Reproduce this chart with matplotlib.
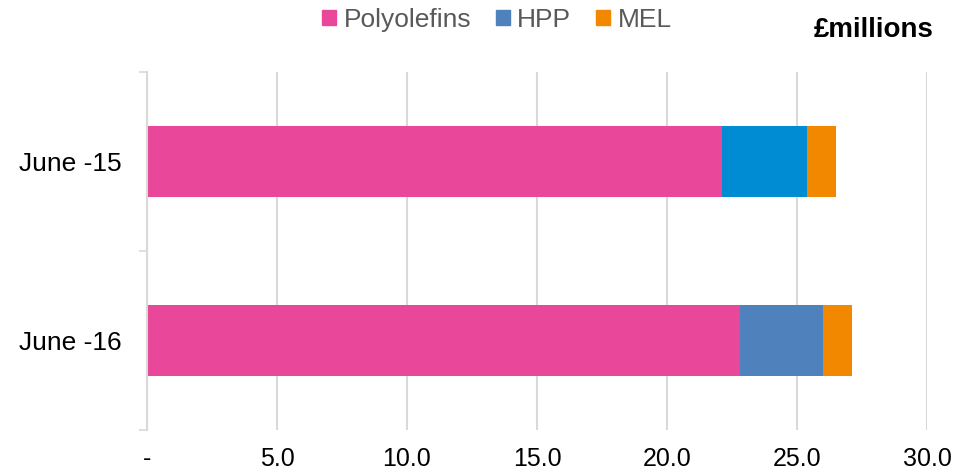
import numpy as np
import matplotlib.pyplot as plt
from matplotlib.patches import Patch

plt.rcParams['font.family'] = ['Liberation Sans', 'DejaVu Sans']

periods = ['June -15', 'June -16']
polyolefins = [22.1, 22.8]
hpp = [3.3, 3.2]
mel = [1.1, 1.1]
xticks = [0, 5, 10, 15, 20, 25, 30]
xticklabels = ['-', '5.0', '10.0', '15.0', '20.0', '25.0', '30.0']

pink = '#E9479A'
blue_legend = '#4F81BD'
hpp_colors = ['#008CD2', '#4F81BD']
orange = '#F28800'
grid_col = '#D9D9D9'

fig = plt.figure(figsize=(9.67, 4.73), dpi=100)
ax = fig.add_axes([147 / 967, 43 / 473, 780 / 967, 358 / 473])

ypos = np.array([1, 0])
poly = np.array(polyolefins)
h = np.array(hpp)
m = np.array(mel)

ax.barh(ypos, poly, height=0.4, color=pink)
ax.barh(ypos, h, left=poly, height=0.4, color=hpp_colors)
ax.barh(ypos, m, left=poly + h, height=0.4, color=orange)

ax.set_xlim(0, 30)
ax.set_ylim(-0.5, 1.5)
ax.set_xticks(xticks)
ax.set_xticklabels(xticklabels, fontsize=18)
ax.tick_params(axis='x', length=0, pad=12)
ax.grid(axis='x', color=grid_col, linewidth=1.5)
ax.set_axisbelow(True)

# category boundaries as ticks, labels on the centres
ax.set_yticks([-0.5, 0.5, 1.5])
ax.set_yticklabels([])
ax.tick_params(axis='y', which='major', length=6, color=grid_col, width=1.2)
ax.set_yticks(ypos, minor=True)
ax.set_yticklabels(periods, minor=True, fontsize=19)
ax.tick_params(axis='y', which='minor', length=0, pad=18)

for s in ['top', 'right', 'bottom']:
    ax.spines[s].set_visible(False)
ax.spines['left'].set_color(grid_col)
ax.spines['left'].set_linewidth(1.5)

handles = [Patch(color=pink, label='Polyolefins'),
           Patch(color=blue_legend, label='HPP'),
           Patch(color=orange, label='MEL')]
leg = fig.legend(handles=handles, loc='center', bbox_to_anchor=(497 / 967, 1 - 20 / 473),
                 ncol=3, frameon=False, fontsize=19, handlelength=0.53, handleheight=0.53,
                 handletextpad=0.27, columnspacing=0.95, borderpad=0)
for t in leg.get_texts():
    t.set_color('#595959')

fig.text(934 / 967, 1 - 30 / 473, '£millions', ha='right', va='center',
         fontsize=20, fontweight='bold')

fig.savefig('out.png', dpi=100)
